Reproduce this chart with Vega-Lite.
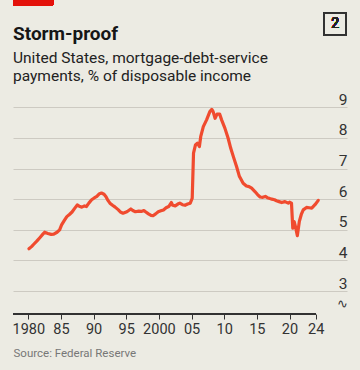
{
  "$schema": "https://vega.github.io/schema/vega-lite/v6.json",
  "width": 334,
  "height": 222,
  "autosize": {"type": "none"},
  "padding": {"left": 13, "top": 92, "right": 13, "bottom": 56},
  "background": "#ECEBE3",
  "config": {"view": {"stroke": null}, "font": "Roboto"},
  "title": {
    "text": "Storm-proof",
    "subtitle": ["United States, mortgage-debt-service", "payments, % of disposable income"],
    "anchor": "start",
    "frame": "group",
    "font": "Roboto",
    "fontSize": 19,
    "fontWeight": "bold",
    "color": "#161616",
    "subtitleFont": "Roboto",
    "subtitleFontSize": 15.5,
    "subtitleColor": "#222222",
    "subtitleLineHeight": 17.5,
    "subtitlePadding": 7,
    "offset": -84
  },
  "data": {
    "values": [
      {"year": 1980.1, "value": 4.38}, {"year": 1980.5, "value": 4.45}, {"year": 1980.8, "value": 4.52},
      {"year": 1981.3, "value": 4.63}, {"year": 1981.8, "value": 4.75}, {"year": 1982.2, "value": 4.85},
      {"year": 1982.5, "value": 4.92}, {"year": 1983.0, "value": 4.88}, {"year": 1983.5, "value": 4.85},
      {"year": 1983.9, "value": 4.86}, {"year": 1984.4, "value": 4.92}, {"year": 1984.8, "value": 5.0},
      {"year": 1985.1, "value": 5.16}, {"year": 1985.5, "value": 5.3}, {"year": 1985.9, "value": 5.43},
      {"year": 1986.3, "value": 5.5}, {"year": 1986.7, "value": 5.58}, {"year": 1987.1, "value": 5.7},
      {"year": 1987.5, "value": 5.81}, {"year": 1987.9, "value": 5.76}, {"year": 1988.2, "value": 5.74},
      {"year": 1988.6, "value": 5.78}, {"year": 1988.9, "value": 5.76}, {"year": 1989.3, "value": 5.88},
      {"year": 1989.7, "value": 5.98}, {"year": 1990.1, "value": 6.04}, {"year": 1990.5, "value": 6.09},
      {"year": 1990.9, "value": 6.18}, {"year": 1991.2, "value": 6.2}, {"year": 1991.6, "value": 6.16},
      {"year": 1991.9, "value": 6.08}, {"year": 1992.2, "value": 5.96}, {"year": 1992.5, "value": 5.87},
      {"year": 1992.9, "value": 5.8}, {"year": 1993.3, "value": 5.74}, {"year": 1993.8, "value": 5.65},
      {"year": 1994.1, "value": 5.58}, {"year": 1994.5, "value": 5.54}, {"year": 1995.1, "value": 5.59},
      {"year": 1995.7, "value": 5.68}, {"year": 1996.0, "value": 5.63}, {"year": 1996.4, "value": 5.59},
      {"year": 1996.9, "value": 5.61}, {"year": 1997.3, "value": 5.6}, {"year": 1997.7, "value": 5.63},
      {"year": 1998.0, "value": 5.58}, {"year": 1998.4, "value": 5.52}, {"year": 1998.8, "value": 5.47},
      {"year": 1999.1, "value": 5.46}, {"year": 1999.5, "value": 5.52}, {"year": 1999.9, "value": 5.59},
      {"year": 2000.3, "value": 5.62}, {"year": 2000.7, "value": 5.65}, {"year": 2001.1, "value": 5.72},
      {"year": 2001.5, "value": 5.76}, {"year": 2001.9, "value": 5.89}, {"year": 2002.1, "value": 5.8},
      {"year": 2002.5, "value": 5.78}, {"year": 2002.9, "value": 5.84}, {"year": 2003.2, "value": 5.87},
      {"year": 2003.6, "value": 5.82}, {"year": 2004.0, "value": 5.8}, {"year": 2004.4, "value": 5.84},
      {"year": 2004.8, "value": 5.87}, {"year": 2005.1, "value": 6.03}, {"year": 2005.3, "value": 7.5},
      {"year": 2005.6, "value": 7.77}, {"year": 2005.9, "value": 7.83}, {"year": 2006.2, "value": 7.72},
      {"year": 2006.4, "value": 8.04}, {"year": 2006.8, "value": 8.37}, {"year": 2007.3, "value": 8.59},
      {"year": 2007.8, "value": 8.86}, {"year": 2008.1, "value": 8.93}, {"year": 2008.3, "value": 8.86},
      {"year": 2008.6, "value": 8.64}, {"year": 2008.9, "value": 8.78}, {"year": 2009.3, "value": 8.78},
      {"year": 2009.6, "value": 8.59}, {"year": 2010.1, "value": 8.32}, {"year": 2010.6, "value": 7.99},
      {"year": 2011.0, "value": 7.66}, {"year": 2011.4, "value": 7.39}, {"year": 2011.9, "value": 7.06},
      {"year": 2012.3, "value": 6.76}, {"year": 2012.9, "value": 6.52}, {"year": 2013.4, "value": 6.43},
      {"year": 2013.8, "value": 6.41}, {"year": 2014.2, "value": 6.36}, {"year": 2014.7, "value": 6.25},
      {"year": 2015.1, "value": 6.15}, {"year": 2015.5, "value": 6.07}, {"year": 2015.9, "value": 6.06},
      {"year": 2016.3, "value": 6.09}, {"year": 2016.6, "value": 6.05}, {"year": 2017.0, "value": 6.02},
      {"year": 2017.3, "value": 6.0}, {"year": 2017.7, "value": 5.98}, {"year": 2018.0, "value": 5.95},
      {"year": 2018.4, "value": 5.92}, {"year": 2018.8, "value": 5.89}, {"year": 2019.3, "value": 5.92},
      {"year": 2019.8, "value": 5.87}, {"year": 2020.0, "value": 5.9}, {"year": 2020.3, "value": 5.87},
      {"year": 2020.5, "value": 5.05}, {"year": 2020.7, "value": 5.27}, {"year": 2020.9, "value": 5.11},
      {"year": 2021.2, "value": 4.81}, {"year": 2021.5, "value": 5.27}, {"year": 2021.8, "value": 5.5},
      {"year": 2022.1, "value": 5.65}, {"year": 2022.6, "value": 5.73}, {"year": 2023.0, "value": 5.72},
      {"year": 2023.4, "value": 5.71}, {"year": 2023.9, "value": 5.82}, {"year": 2024.4, "value": 5.96}
    ]
  },
  "layer": [
    {
      "mark": {"type": "line", "color": "#F04B2F", "strokeWidth": 3.2, "strokeJoin": "round", "strokeCap": "round"},
      "encoding": {
        "x": {
          "field": "year",
          "type": "quantitative",
          "scale": {"domain": [1977.66, 2028.8], "nice": false, "zero": false},
          "axis": {
            "values": [1980, 1985, 1990, 1995, 2000, 2005, 2010, 2015, 2020, 2024],
            "tickCount": 30,
            "labelExpr": "datum.value == 1980 || datum.value == 2000 ? toString(datum.value) : substring(toString(datum.value), 2)",
            "domain": false,
            "grid": false,
            "ticks": true,
            "tickSize": 5,
            "tickColor": "#333333",
            "tickWidth": 1,
            "labelPadding": 3,
            "labelFont": "Roboto",
            "labelFontSize": 14.5,
            "labelColor": "#333333",
            "labelFlush": false,
            "labelOverlap": false,
            "title": "Source: Federal Reserve",
            "titleFont": "Roboto",
            "titleAnchor": "start",
            "titleAlign": "left",
            "titleFontSize": 11.5,
            "titleFontWeight": "normal",
            "titleColor": "#777777",
            "titlePadding": 12
          }
        },
        "y": {
          "field": "value",
          "type": "quantitative",
          "scale": {"domain": [2.25, 9.5], "nice": false, "zero": false},
          "axis": {
            "orient": "right",
            "title": null,
            "values": [2.38, 3, 4, 5, 6, 7, 8, 9],
            "tickCount": 30,
            "labelExpr": "datum.value < 2.9 ? '∿' : toString(datum.value)",
            "domain": false,
            "ticks": false,
            "tickSize": 0,
            "grid": true,
            "gridColor": "#CDCAC2",
            "gridWidth": 1,
            "gridOpacity": {"condition": {"test": "datum.value < 2.9", "value": 0}, "value": 1},
            "labelAlign": "right",
            "labelPadding": 0,
            "labelBaseline": "alphabetic",
            "labelOffset": -3,
            "labelFont": "Roboto",
            "labelFontSize": {"condition": {"test": "datum.value < 2.9", "value": 13}, "value": 15.5},
            "labelColor": "#333333",
            "labelOverlap": false
          }
        }
      }
    },
    {
      "mark": {"type": "rule", "color": "#333333", "strokeWidth": 1.2},
      "encoding": {
        "x": {"datum": 1977.66, "type": "quantitative"},
        "x2": {"datum": 2024},
        "y": {"datum": 2.25, "type": "quantitative"}
      }
    },
    {
      "mark": {"type": "rect", "color": "#E3120B", "clip": false},
      "encoding": {
        "x": {"datum": 1977.66, "type": "quantitative"},
        "x2": {"datum": 1983.8},
        "y": {"datum": 12.5, "type": "quantitative"},
        "y2": {"datum": 12.33}
      }
    },
    {
      "mark": {"type": "rect", "fill": null, "fillOpacity": 0, "stroke": "#333333", "strokeWidth": 1.2, "clip": false},
      "encoding": {
        "x": {"datum": 2025.3, "type": "quantitative"},
        "x2": {"datum": 2028.7},
        "y": {"datum": 12.07, "type": "quantitative"},
        "y2": {"datum": 11.35}
      }
    },
    {
      "mark": {"type": "text", "text": "2", "font": "Roboto", "fontSize": 14, "color": "#222222", "align": "center", "baseline": "middle", "clip": false},
      "encoding": {
        "x": {"datum": 2027.0, "type": "quantitative"},
        "y": {"datum": 11.71, "type": "quantitative"}
      }
    }
  ]
}
